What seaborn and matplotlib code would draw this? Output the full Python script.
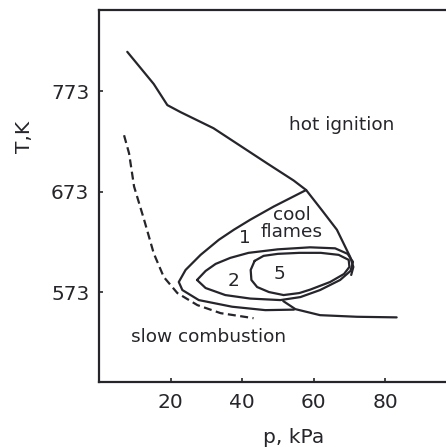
import matplotlib
matplotlib.use("Agg")
import matplotlib.pyplot as plt
import seaborn as sns

# ignition diagram: p in kPa, T in K

# hot ignition limit, upper branch and down the right side of the cool-flame area
hot_p = [7.9, 11.6, 15.3, 19.1, 22.8, 32.0, 47.0, 54.4, 57.9, 62.4, 66.5, 70.2, 71.1, 70.5]
hot_T = [812, 796, 780, 759, 752, 736, 701, 684, 674.5, 654, 635, 608, 598, 590]

# hot ignition limit, lower branch
lower_p = [51.5, 54.9, 61.8, 72.1, 83.2]
lower_T = [564, 556, 550, 548.4, 547.8]

# cool flames, 1 flame boundary
loop1_p = [57.9, 48.8, 42.3, 37.7, 33.5, 28.4, 24.2, 22.3, 23.3, 27.9, 37.2, 46.5, 54.5]
loop1_T = [674.5, 658, 645, 635, 625, 610, 595, 583, 575, 565, 558.4, 555, 555.5]

# 2 flames boundary
loop2_p = [27.4, 29.8, 32.6, 36.7, 41.8, 50.0, 59.0, 66.0, 69.5, 71.0, 70.3, 67.4, 61.8,
           56.3, 50.7, 42.3, 35.3, 29.8, 27.4]
loop2_T = [585, 594, 601, 607, 612, 615.5, 617.5, 616.5, 611, 603, 594, 585, 575,
           568, 565, 566.5, 570, 577, 585]

# 5 flames boundary
loop5_p = [43.5, 42.4, 42.6, 44.2, 47.5, 51.6, 56.0, 59.1, 64.6, 68.5, 70.0, 69.8, 67.0,
           62.0, 56.0, 50.0, 46.0, 43.5]
loop5_T = [604, 595, 585, 578, 573, 570, 572, 575.5, 583, 591, 598, 605, 610,
           612, 612, 611, 609, 604]

# slow combustion limit (dashed)
slow_p = [7.0, 8.4, 9.8, 12.6, 15.3, 18.1, 21.9, 27.5, 34.0, 43.2]
slow_T = [729, 711, 678, 645, 611.5, 588, 572, 560, 552, 547]

x_ticks = [20, 40, 60, 80]
y_ticks = [573, 673, 773]

ink = "#25252b"

sns.set_theme(style="white")
plt.rcParams["font.family"] = ["DejaVu Sans"]

fig = plt.figure(figsize=(4.46, 4.47), dpi=100)
ax = fig.add_axes([0.222, 0.1454, 0.778, 0.8322])

lw = 1.6
for xs, ys in [(hot_p, hot_T), (lower_p, lower_T), (loop1_p, loop1_T),
               (loop2_p, loop2_T), (loop5_p, loop5_T)]:
    sns.lineplot(x=xs, y=ys, sort=False, estimator=None, ax=ax, color=ink, linewidth=lw)

sns.lineplot(x=slow_p, y=slow_T, sort=False, estimator=None, ax=ax, color=ink, linewidth=lw)
ax.lines[-1].set_dashes((3.6, 2.0))

# region labels
fs = 13.3
ax.text(67.9, 739, "hot ignition", ha="center", va="center", fontsize=fs, color=ink)
ax.text(53.9, 641, "cool\nflames", ha="center", va="center", fontsize=fs, color=ink,
        linespacing=0.95)
ax.text(40.9, 627, "1", ha="center", va="center", fontsize=fs, color=ink)
ax.text(37.5, 584, "2", ha="center", va="center", fontsize=fs, color=ink)
ax.text(50.5, 591, "5", ha="center", va="center", fontsize=fs, color=ink)
ax.text(30.7, 528, "slow combustion", ha="center", va="center", fontsize=fs, color=ink)

ax.set_xlim(0, 97)
ax.set_ylim(483.5, 853.6)
ax.set_xticks(x_ticks)
ax.set_yticks(y_ticks)
ax.tick_params(bottom=True, left=True, direction="in", length=3, width=1.2,
               color=ink, labelcolor=ink, labelsize=14.5)
ax.tick_params(axis="x", pad=8)
ax.tick_params(axis="y", pad=7)

for side in ["left", "bottom", "top"]:
    ax.spines[side].set_linewidth(1.6)
    ax.spines[side].set_color(ink)
ax.spines["right"].set_visible(False)

ax.set_xlabel("p, kPa", fontsize=14.5, color=ink)
ax.set_ylabel("T,K", fontsize=14.5, color=ink)
ax.xaxis.set_label_coords(0.561, -0.123)
ax.yaxis.set_label_coords(-0.187, 0.659)

fig.savefig("out.png", dpi=100)
